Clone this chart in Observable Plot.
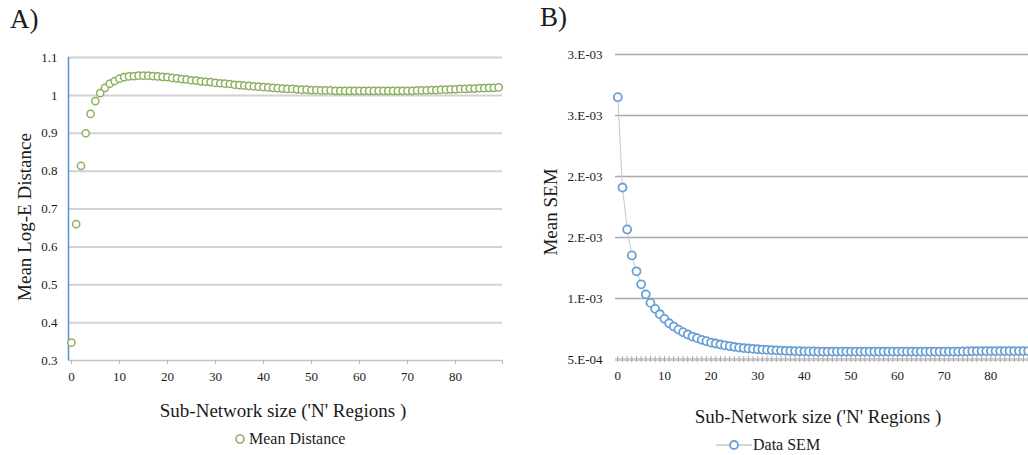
<!DOCTYPE html>
<html>
<head>
<meta charset="utf-8">
<script src="https://cdn.jsdelivr.net/npm/d3@7"></script>
<script src="https://cdn.jsdelivr.net/npm/@observablehq/plot@0.6"></script>
<style>
  html, body { margin: 0; padding: 0; background: #fff; }
  #wrap { position: relative; width: 1028px; height: 455px; overflow: hidden; background: #fff;
          font-family: "Liberation Serif", "Times New Roman", serif; color: #1a1a1a; }
  #wrap svg { max-width: none !important; }
  #wrap svg text { font-family: "Liberation Serif", "Times New Roman", serif !important; }
  .abs { position: absolute; white-space: nowrap; }
  .ctr { transform: translate(-50%, -50%); }
  .rot { transform: translate(-50%, -50%) rotate(-90deg); }
  #panelA, #panelB { position: absolute; top: 0; }
  #panelA { left: 0; width: 520px; }
  #panelB { left: 520px; width: 525px; }
</style>
</head>
<body>
<div id="wrap">
  <div id="panelA"></div>
  <div id="panelB"></div>
  <div class="abs" style="left:10px;top:4px;font-size:27px;">A)</div>
  <div class="abs" style="left:540px;top:2px;font-size:27px;">B)</div>
  <div class="abs rot" style="left:25px;top:217px;font-size:19px;">Mean Log-E Distance</div>
  <div class="abs rot" style="left:551px;top:212px;font-size:19px;">Mean SEM</div>
  <div class="abs ctr" style="left:283px;top:411px;font-size:19px;">Sub-Network size ('N' Regions )</div>
  <div class="abs ctr" style="left:818px;top:417px;font-size:19px;">Sub-Network size ('N' Regions )</div>
  <div class="abs" style="left:234px;top:430px;font-size:16px;display:flex;align-items:center;gap:3px;">
    <svg width="12" height="12"><circle cx="6" cy="6" r="4" fill="#fff" stroke="#8cb15e" stroke-width="1.6"></circle></svg>
    <span>Mean Distance</span>
  </div>
  <div class="abs" style="left:716px;top:436px;font-size:16px;display:flex;align-items:center;gap:1px;">
    <svg width="36" height="12"><line x1="0" y1="6" x2="36" y2="6" stroke="#c5c9ce" stroke-width="1.5"></line><circle cx="18" cy="6" r="4" fill="#fff" stroke="#6a9fd6" stroke-width="1.8"></circle></svg>
    <span>Data SEM</span>
  </div>
</div>
<script>
// ---------- Data ----------
const regionsA = d3.range(0, 90); // sub-network size index
const meanDistance = [
  0.347, 0.660, 0.814, 0.900, 0.951, 0.985, 1.006, 1.020, 1.031, 1.038,
  1.044, 1.048, 1.050, 1.051, 1.052, 1.052, 1.052, 1.051, 1.050, 1.049,
  1.048, 1.046, 1.045, 1.043, 1.042, 1.040, 1.039, 1.037, 1.036, 1.035,
  1.033, 1.032, 1.031, 1.030, 1.028, 1.027, 1.026, 1.025, 1.024, 1.023,
  1.022, 1.021, 1.020, 1.019, 1.018, 1.017, 1.017, 1.016, 1.015, 1.015,
  1.014, 1.014, 1.013, 1.013, 1.013, 1.012, 1.012, 1.012, 1.012, 1.012,
  1.012, 1.012, 1.012, 1.012, 1.012, 1.012, 1.012, 1.012, 1.012, 1.012,
  1.012, 1.012, 1.013, 1.013, 1.013, 1.014, 1.014, 1.015, 1.015, 1.016,
  1.016, 1.017, 1.017, 1.018, 1.018, 1.019, 1.019, 1.020, 1.020, 1.021
];
const regionsB = d3.range(0, 90);
const dataSEM = [
  0.002650, 0.001910, 0.001566, 0.001353, 0.001223, 0.001116, 0.001034, 0.000964, 0.000915, 0.000871,
  0.000833, 0.000797, 0.000770, 0.000745, 0.000724, 0.000705, 0.000688, 0.000675, 0.000661, 0.000650,
  0.000639, 0.000631, 0.000623, 0.000615, 0.000609, 0.000604, 0.000598, 0.000594, 0.000590, 0.000587,
  0.000584, 0.000581, 0.000579, 0.000577, 0.000575, 0.000573, 0.000571, 0.000570, 0.000569, 0.000568,
  0.000567, 0.000566, 0.000566, 0.000565, 0.000565, 0.000565, 0.000565, 0.000565, 0.000565, 0.000565,
  0.000565, 0.000565, 0.000565, 0.000565, 0.000565, 0.000565, 0.000565, 0.000565, 0.000565, 0.000565,
  0.000565, 0.000565, 0.000565, 0.000565, 0.000565, 0.000565, 0.000565, 0.000565, 0.000565, 0.000565,
  0.000565, 0.000565, 0.000565, 0.000565, 0.000566, 0.000566, 0.000568, 0.000569, 0.000569, 0.000569,
  0.000569, 0.000569, 0.000569, 0.000569, 0.000569, 0.000569, 0.000569, 0.000569, 0.000569, 0.000569
];
const xTicks = [0, 10, 20, 30, 40, 50, 60, 70, 80];
const yTicksA = [0.3, 0.4, 0.5, 0.6, 0.7, 0.8, 0.9, 1.0, 1.1];
const yTickLabelsA = ["0.3", "0.4", "0.5", "0.6", "0.7", "0.8", "0.9", "1", "1.1"];
const yTicksB = [0.0005, 0.001, 0.0015, 0.002, 0.0025, 0.003];
const yTickLabelsB = ["5.E-04", "1.E-03", "2.E-03", "2.E-03", "3.E-03", "3.E-03"];
const xDomainA = [-0.6, 89.8];
const xDomainB = [-0.5, 90];

const tableA = regionsA.map((n, i) => ({n, v: meanDistance[i]}));
const tableB = regionsB.map((n, i) => ({n, v: dataSEM[i]}));

const baseStyle = {fontFamily: "Liberation Serif", fontSize: "13px", color: "#1a1a1a", background: "transparent", overflow: "visible"};

// ---------- Panel A ----------
const plotA = Plot.plot({
  width: 520, height: 455,
  marginLeft: 68, marginRight: 18, marginTop: 57, marginBottom: 95,
  x: {domain: xDomainA},
  y: {domain: [yTicksA[0], yTicksA[yTicksA.length - 1]]},
  style: baseStyle,
  marks: [
    Plot.ruleY(yTicksA.slice(1), {stroke: "#d2d2d2", strokeWidth: 2}),
    Plot.ruleY(yTicksA.slice(0, 1), {stroke: "#c4c4c4", strokeWidth: 1.5}),
    Plot.ruleX(xDomainA.slice(0, 1), {stroke: "#5b8fc9", strokeWidth: 1.5}),
    Plot.axisX({ticks: xTicks.concat([xDomainA[1]]), tickSize: 4, tickPadding: 7, stroke: "#b8b8b8",
                tickFormat: d => xTicks.includes(d) ? String(d) : "", label: null}),
    Plot.axisY({ticks: yTicksA, tickSize: 0, tickPadding: 11, tickFormat: d => yTickLabelsA[yTicksA.indexOf(d)], label: null}),
    Plot.dot(tableA, {x: "n", y: "v", r: 3.6, fill: "white", stroke: "#8cb15e", strokeWidth: 1.5})
  ]
});
document.getElementById("panelA").appendChild(plotA);

// ---------- Panel B ----------
const plotB = Plot.plot({
  width: 525, height: 455,
  marginLeft: 95, marginRight: 8, marginTop: 54, marginBottom: 96,
  x: {domain: xDomainB},
  y: {domain: [yTicksB[0], yTicksB[yTicksB.length - 1]]},
  style: baseStyle,
  marks: [
    Plot.ruleY(yTicksB.slice(1), {stroke: "#a9a9a9", strokeWidth: 1.5}),
    Plot.ruleY(yTicksB.slice(0, 1), {stroke: "#d0d0d0", strokeWidth: 3}),
    Plot.axisX({ticks: regionsB.concat([90]), tickSize: 6, dy: -3, stroke: "#a8a8a8", tickFormat: () => "", label: null}),
    Plot.axisX({ticks: xTicks, tickSize: 0, tickPadding: 11, label: null}),
    Plot.axisY({ticks: yTicksB, tickSize: 0, tickPadding: 13, tickFormat: d => yTickLabelsB[yTicksB.indexOf(d)], label: null}),
    Plot.line(tableB, {x: "n", y: "v", stroke: "#c5c9ce", strokeWidth: 1}),
    Plot.dot(tableB, {x: "n", y: "v", r: 4, fill: "white", stroke: "#6a9fd6", strokeWidth: 1.8})
  ]
});
document.getElementById("panelB").appendChild(plotB);
</script>
</body>
</html>
